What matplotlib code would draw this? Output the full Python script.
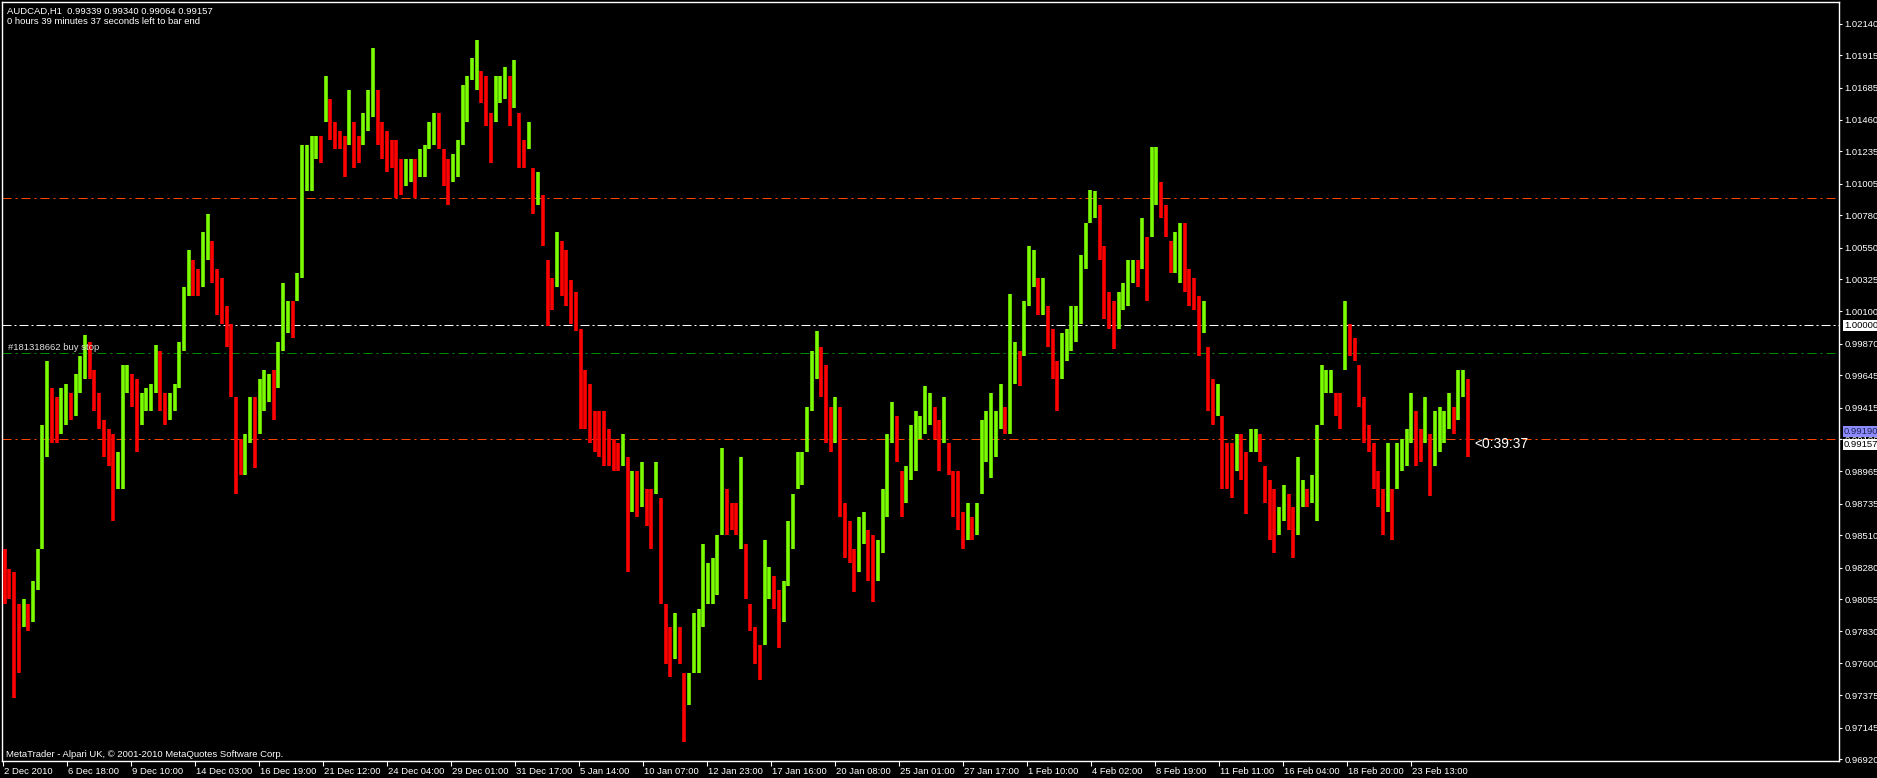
import numpy as np
import matplotlib
matplotlib.use("Agg")
import matplotlib.pyplot as plt
import matplotlib.transforms as mtransforms

# ---------------- data ----------------
title_line = "AUDCAD,H1  0.99339 0.99340 0.99064 0.99157"
timer_line = "0 hours 39 minutes 37 seconds left to bar end"
copyright_line = "MetaTrader - Alpari UK, \u00a9 2001-2010 MetaQuotes Software Corp."
order_label = "#181318662 buy stop"
countdown_label = "<0:39:37"

# each entry = one group of ~4.7 hourly bars (high / low of the group)
highs = [
    .98413, .98267, .98251, .98023, .98055, .98023, .98186, .98413, .99293, .99749,
    .99554, .99489, .99554, .99586, .99521, .99652, .99782, .99928, .99880, .99684,
    .99521, .99326, .99261, .99228, .99098, .99717, .99717, .99652, .99619, .99521,
    .99554, .99586, .99863, .99814, .99521, .99521, .99586, .99880, 1.00271, 1.00531,
    1.00466, 1.00401, 1.00662, 1.00792, 1.00596, 1.00401, 1.00336, 1.00140, 1.00010, .99489,
    .99195, .99228, .99489, .99489, .99619, .99684, .99652, .99684, .99880, 1.00303,
    1.00173, 1.00173, 1.00368, 1.01280, 1.01280, 1.01346, 1.01346, 1.01346, 1.01769, 1.01606,
    1.01443, 1.01378, 1.01346, 1.01671, 1.01443, 1.01346, 1.01509, 1.01671, 1.01965, 1.01671,
    1.01443, 1.01378, 1.01313, 1.01313, 1.01183, 1.01183, 1.01183, 1.01183, 1.01248, 1.01280,
    1.01443, 1.01509, 1.01509, 1.01248, 1.01183, 1.01215, 1.01313, 1.01704, 1.01769, 1.01900,
    1.02023, 1.01802, 1.01769, 1.01509, 1.01769, 1.01769, 1.01834, 1.01769, 1.01883, 1.01509,
    1.01313, 1.01443, 1.01118, 1.01085, 1.00922, 1.00466, 1.00336, 1.00662, 1.00596, 1.00531,
    1.00319, 1.00238, .99977, .99684, .99586, .99391, .99391, .99391, .99261, .99195,
    .99163, .99228, .99065, .98967, .98967, .99033, .98837, .98837, .99033, .98772,
    .98023, .97860, .97957, .97860, .97534, .97534, .97957, .97990, .98446, .98316,
    .98348, .98511, .99130, .98837, .98739, .98739,
    .99065, .98446, .98023, .97860,
    .97729, .98479, .98283, .98218, .98120, .98186, .98609, .98804, .99098, .99098,
    .99423, .99814, .99961, .99847, .99717, .99423, .99489, .99423, .98739, .98609,
    .98413, .98641, .98674, .98544, .98511, .98479, .98837, .99228, .99456, .99358,
    .98967, .99000, .99293, .99391, .99358, .99570, .99521, .99423, .99326, .99489,
    .99163, .98967, .98967, .98674, .98739, .98641, .98739, .99326, .99391, .99521,
    .99391, .99586, .99423, 1.00222, .99880, .99814, 1.00173, 1.00564, 1.00531, 1.00336,
    1.00336, 1.00140, .99977, .99749, .99945, .99977, 1.00140, 1.00140, 1.00499, 1.00727,
    1.00961, 1.00955, 1.00857, 1.00564, 1.00238, 1.00173, 1.00238, 1.00303, 1.00466, 1.00466,
    1.00466, 1.00759, 1.00629, 1.01264, 1.01264, 1.01020, 1.00857, 1.00596, 1.00662, 1.00727,
    1.00727, 1.00401, 1.00336, 1.00205, 1.00173, .99847, .99619, .99586, .99358, .99163,
    .99163, .99228, .99228, .99098, .99261, .99261, .99228, .99000, .98902, .98837,
    .98707, .98870, .98804, .98707, .99065, .98902, .98837, .98935, .99293, .99717,
    .99684, .99684, .99521, .99521, 1.00173, 1.00010, .99912, .99717, .99489, .99293,
    .99163, .98967, .98837, .99163, .98837, .99163, .99195, .99261, .99521, .99391,
    .99261, .99489, .99228, .99391, .99423, .99391, .99521, .99423, .99684, .99684,
    .99619,
]
lows = [
    .98023, .98055, .97355, .97534, .97860, .97827, .97892, .98120, .98413, .99065,
    .99163, .99163, .99228, .99293, .99326, .99358, .99521, .99619, .99619, .99391,
    .99261, .99065, .99000, .98609, .98837, .98837, .99521, .99423, .99098, .99293,
    .99391, .99391, .99521, .99391, .99293, .99326, .99391, .99554, .99814, 1.00205,
    1.00205, 1.00205, 1.00271, 1.00466, 1.00303, 1.00075, 1.00010, .99847, .99489, .98804,
    .98935, .98935, .99163, .98984, .99228, .99391, .99456, .99326, .99554, .99814,
    .99945, .99912, 1.00173, 1.00336, 1.00955, 1.00955, 1.01183, 1.01150, 1.01443, 1.01313,
    1.01248, 1.01248, 1.01052, 1.01280, 1.01118, 1.01150, 1.01280, 1.01378, 1.01476, 1.01280,
    1.01183, 1.01085, 1.01118, 1.00906, 1.00922, 1.00987, 1.01020, 1.00906, 1.01052, 1.01052,
    1.01248, 1.01280, 1.01248, 1.00987, 1.00857, 1.01020, 1.01052, 1.01280, 1.01443, 1.01737,
    1.01671, 1.01574, 1.01411, 1.01150, 1.01443, 1.01574, 1.01606, 1.01411, 1.01541, 1.01118,
    1.01118, 1.01248, 1.00792, 1.00857, 1.00564, .99994, 1.00108, 1.00271, 1.00205, 1.00140,
    1.00010, .99961, .99261, .99261, .99163, .99098, .99065, .99000, .99000, .98967,
    .98967, .99000, .98251, .98674, .98641, .98707, .98576, .98413, .98804, .98023,
    .97599, .97501, .97632, .97599, .97045, .97306, .97534, .97534, .97860, .98023,
    .98023, .98088, .98511, .98511, .98544, .98511,
    .98413, .98055, .97827, .97599,
    .97485, .97729, .98055, .97990, .97713, .97892, .98153, .98413, .98837, .98870,
    .99098, .99391, .99619, .99489, .99163, .99098, .99163, .98641, .98348, .98316,
    .98104, .98251, .98446, .98186, .98039, .98186, .98381, .98641, .99163, .99033,
    .98641, .98739, .98902, .98967, .99195, .99228, .99293, .99195, .98967, .99163,
    .98935, .98641, .98544, .98413, .98479, .98479, .98511, .98804, .99033, .98919,
    .99065, .99261, .99228, .99228, .99586, .99570, .99782, 1.00140, 1.00271, 1.00075,
    1.00075, .99847, .99619, .99391, .99619, .99749, .99814, .99880, 1.00010, 1.00401,
    1.00727, 1.00759, 1.00466, 1.00042, .99977, .99831, .99977, 1.00108, 1.00140, 1.00303,
    1.00271, 1.00401, 1.00173, 1.00629, 1.00857, 1.00759, 1.00629, 1.00368, 1.00368, 1.00303,
    1.00238, 1.00140, 1.00108, .99782, .99945, .99391, .99293, .99358, .98837, .98837,
    .98772, .98967, .98902, .98658, .99098, .99098, .99033, .98739, .98479, .98381,
    .98511, .98609, .98544, .98348, .98511, .98707, .98707, .98739, .98609, .99293,
    .99521, .99521, .99358, .99261, .99684, .99782, .99749, .99423, .99163, .99098,
    .98837, .98707, .98511, .98674, .98479, .98837, .98967, .99000, .99163, .99000,
    .99033, .99163, .98788, .99000, .99098, .99163, .99261, .99228, .99326, .99489,
    .99065,
]

HOURS_PER_GROUP = 4.72          # hourly bars represented by each group

time_labels = ["2 Dec 2010", "6 Dec 18:00", "9 Dec 10:00", "14 Dec 03:00", "16 Dec 19:00",
               "21 Dec 12:00", "24 Dec 04:00", "29 Dec 01:00", "31 Dec 17:00", "5 Jan 14:00",
               "10 Jan 07:00", "12 Jan 23:00", "17 Jan 16:00", "20 Jan 08:00", "25 Jan 01:00",
               "27 Jan 17:00", "1 Feb 10:00", "4 Feb 02:00", "8 Feb 19:00", "11 Feb 11:00",
               "16 Feb 04:00", "18 Feb 20:00", "23 Feb 13:00"]
BARS_PER_LABEL = 64

price_ticks = [1.02140, 1.01915, 1.01685, 1.01460, 1.01235, 1.01005, 1.00780, 1.00550,
               1.00325, 1.00100, 0.99870, 0.99645, 0.99415, 0.99190, 0.98965, 0.98735,
               0.98510, 0.98280, 0.98055, 0.97830, 0.97600, 0.97375, 0.97145, 0.96920]

level_upper = 1.00900     # orange dash-dot
level_round = 1.00000     # white dash-dot
level_buystop = 0.99800   # green dash-dot (pending order)
level_lower = 0.99190     # orange dash-dot
bid_price = 0.99157

# ---------------- styling ----------------
plt.rcParams['font.family'] = ['Liberation Sans', 'DejaVu Sans']
SMALL = 6.8
BULL = "#7CFC00"
BEAR = "#FF0000"
ORANGE = "#FF4500"
GREEN = "#008C00"

W, H = 1877, 778
fig = plt.figure(figsize=(W / 100, H / 100), dpi=100, facecolor="black")

def fx(px):
    return px / W

def fy(py):
    return 1 - py / H

ax = fig.add_axes([fx(2), 17 / H, 1837 / W, 759 / H])
ax.set_facecolor("black")

highs_a = np.array(highs)
lows_a = np.array(lows)
n = len(highs_a)
x = 2.7 + HOURS_PER_GROUP * np.arange(n)
mid = (highs_a + lows_a) / 2
up = np.concatenate([[False], mid[1:] >= mid[:-1]])
colors = [BULL if u else BEAR for u in up]
colors[-1] = BEAR
ax.vlines(x, lows_a, highs_a, colors=colors, linewidth=2.6, zorder=3)

ax.set_xlim(0, 1837)
ax.set_ylim(0.96908, 1.02294)

# horizontal levels
px = 0.72
ax.axhline(level_upper, color=ORANGE, lw=px, dashes=(9, 4, 2, 4), zorder=2)
ax.axhline(level_lower, color=ORANGE, lw=px, dashes=(9, 4, 2, 4), zorder=2)
ax.axhline(level_round, color="white", lw=px, dashes=(9, 3, 2, 3), zorder=2)
ax.axhline(level_buystop, color=GREEN, lw=px, dashes=(9, 4, 2, 4), zorder=2)

# frame
for s in ax.spines.values():
    s.set_color("white")
    s.set_linewidth(1.0)

# y axis on the right
ax.yaxis.tick_right()
ax.set_yticks(price_ticks)
ax.set_yticklabels([f"{v:.5f}" for v in price_ticks])
ax.tick_params(axis="y", colors="white", labelcolor="white", labelsize=SMALL,
               length=2.5, width=0.8, pad=1.5, direction="out")

# x axis
tick_pos = [1 + BARS_PER_LABEL * i for i in range(len(time_labels))]
ax.set_xticks(tick_pos)
ax.set_xticklabels([])
ax.tick_params(axis="x", colors="white", length=3.5, width=0.8, direction="out")
xlab_tr = ax.get_xaxis_transform() + mtransforms.ScaledTranslation(0, -13 / 100, fig.dpi_scale_trans)
for pos, lab in zip(tick_pos, time_labels):
    ax.text(pos + 1, 0, lab, transform=xlab_tr, color="white",
            fontsize=SMALL, ha="left", va="baseline", clip_on=False)

# price boxes on the right axis
yt = ax.get_yaxis_transform()
box_pad = "square,pad=0.1"
ax.text(1.0, level_round, "1.00000", transform=yt + mtransforms.ScaledTranslation(5 / 100, 0, fig.dpi_scale_trans),
        color="black", fontsize=SMALL, ha="left", va="center", clip_on=False, zorder=6,
        bbox=dict(boxstyle=box_pad, fc="white", ec="none"))
ax.text(1.0, level_lower, "0.99190", transform=yt + mtransforms.ScaledTranslation(5 / 100, 8 / 100, fig.dpi_scale_trans),
        color="#202050", fontsize=SMALL, ha="left", va="center", clip_on=False, zorder=6,
        bbox=dict(boxstyle=box_pad, fc="#8C8CFF", ec="none"))
ax.text(1.0, bid_price, "0.99157", transform=yt + mtransforms.ScaledTranslation(5 / 100, 0, fig.dpi_scale_trans),
        color="black", fontsize=SMALL, ha="left", va="center", clip_on=False, zorder=7,
        bbox=dict(boxstyle=box_pad, fc="white", ec="none"))

# texts
fig.text(fx(7), fy(14), title_line, color="white", fontsize=SMALL, va="baseline")
fig.text(fx(7), fy(24), timer_line, color="white", fontsize=SMALL, va="baseline")
fig.text(fx(6), fy(757), copyright_line, color="white", fontsize=SMALL, va="baseline")
ax.text(6, level_buystop, order_label, color="#E0E0E0", fontsize=SMALL, ha="left", va="baseline",
        transform=ax.transData + mtransforms.ScaledTranslation(0, 3 / 100, fig.dpi_scale_trans), zorder=5)
ax.text(x[-1] + 6, bid_price, countdown_label, color="white", fontsize=10, ha="left", va="center", zorder=5)

fig.savefig("out.png", dpi=100, facecolor="black")
